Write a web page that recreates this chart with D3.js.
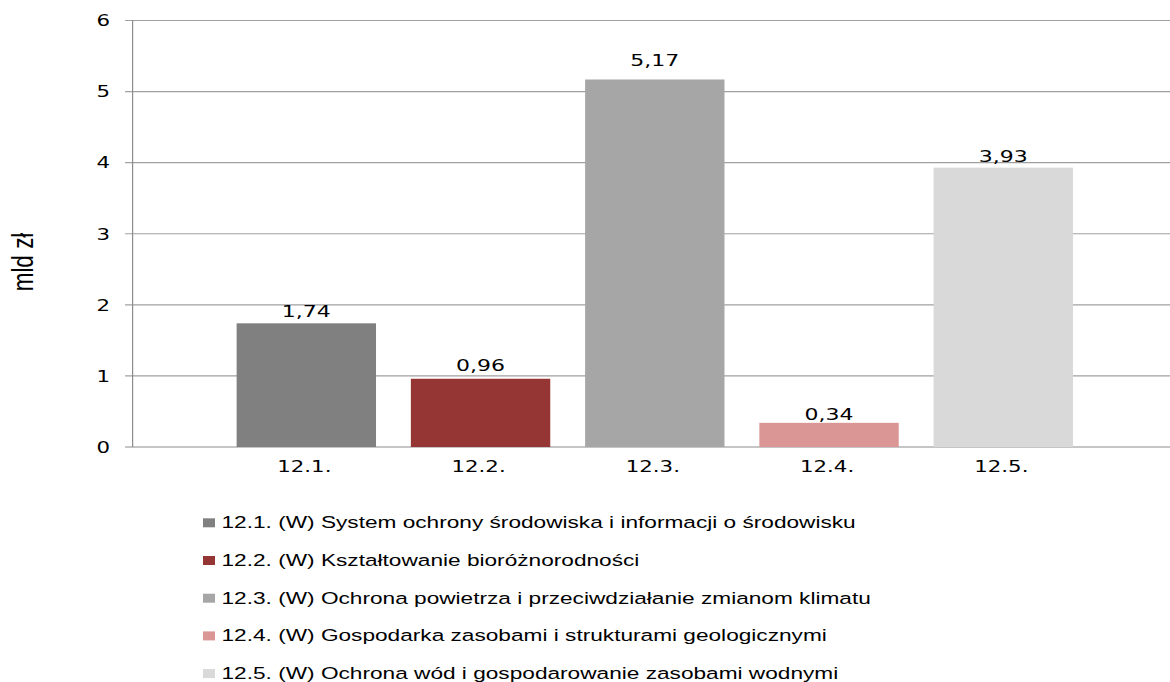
<!DOCTYPE html>
<html><head><meta charset="utf-8">
<script src="https://cdn.jsdelivr.net/npm/d3@7"></script>
<style>html,body{margin:0;padding:0;background:#fff;}svg{display:block;}</style>
</head><body>
<svg id="chart" width="1170" height="682"></svg>
<script>
const categories = ["12.1.", "12.2.", "12.3.", "12.4.", "12.5."];
const values = [1.74, 0.96, 5.17, 0.34, 3.93];
const valueLabels = ["1,74", "0,96", "5,17", "0,34", "3,93"];
const legendLabels = [
  "12.1. (W) System ochrony środowiska i informacji o środowisku",
  "12.2. (W) Kształtowanie bioróżnorodności",
  "12.3. (W) Ochrona powietrza i przeciwdziałanie zmianom klimatu",
  "12.4. (W) Gospodarka zasobami i strukturami geologicznymi",
  "12.5. (W) Ochrona wód i gospodarowanie zasobami wodnymi"
];
const colors = ["#808080", "#963634", "#a6a6a6", "#da9694", "#d9d9d9"];
const yTicks = [0, 1, 2, 3, 4, 5, 6];
const yTitle = "mld zł";
// gap (px) between bar top and its value label, as placed in the original
const labelGaps = [6.8, 7.3, 13.5, 3, 6];

const SX = 1.333; // horizontal stretch of text
const svg = d3.select("#chart");
const pLeft = 132.6, pRight = 1177, pTop = 20.5, pBottom = 447;

const x = d3.scaleBand().domain(categories).range([pLeft, pRight]).paddingInner(0.2).paddingOuter(0.597);
const y = d3.scaleLinear().domain([0, 6]).range([pBottom, pTop]);

function txt(g, px, py, s, anchor, font, size) {
  return g.append("text").attr("transform", `translate(${px},${py}) scale(${SX},1)`)
    .attr("text-anchor", anchor).attr("font-family", font).attr("font-size", size)
    .attr("fill", "#000").text(s);
}

// gridlines
svg.append("g").selectAll("line").data(yTicks).join("line")
  .attr("x1", pLeft - 7.5).attr("x2", 1170).attr("y1", d => y(d)).attr("y2", d => y(d))
  .attr("stroke", d => d === 0 ? "#8c8c8c" : "#a0a0a0").attr("stroke-width", 1.2);

// y axis line
svg.append("line").attr("x1", pLeft).attr("x2", pLeft).attr("y1", pTop).attr("y2", pBottom)
  .attr("stroke", "#8c8c8c").attr("stroke-width", 1.2);

// y tick labels
const tg = svg.append("g");
yTicks.forEach(t => txt(tg, 110, y(t) + 5.8, String(t), "end", "DejaVu Sans", 16));

// bars
svg.append("g").selectAll("rect").data(values).join("rect")
  .attr("x", (d, i) => x(categories[i])).attr("width", x.bandwidth())
  .attr("y", d => y(d)).attr("height", d => pBottom - y(d))
  .attr("fill", (d, i) => colors[i]);

// value labels
const vg = svg.append("g");
values.forEach((v, i) => txt(vg, x(categories[i]) + x.bandwidth() / 2, y(v) - labelGaps[i], valueLabels[i], "middle", "DejaVu Sans", 16.5));

// x labels
const xg = svg.append("g");
categories.forEach(c => txt(xg, x(c) + x.bandwidth() / 2 - 2, 472, c, "middle", "DejaVu Sans", 16));

// y title
svg.append("text").attr("transform", `translate(33,262) scale(${SX},1) rotate(-90)`)
  .attr("text-anchor", "middle").attr("font-family", "Liberation Sans").attr("font-size", 22.5)
  .text(yTitle);

// legend
const lg = svg.append("g");
legendLabels.forEach((l, i) => {
  const by = 528.3 + i * 37.7;
  lg.append("rect").attr("x", 203).attr("y", by - 10).attr("width", 12).attr("height", 9).attr("fill", colors[i]);
  txt(lg, 221.5, by, l, "start", "Liberation Sans", 17);
});
</script>
</body></html>
